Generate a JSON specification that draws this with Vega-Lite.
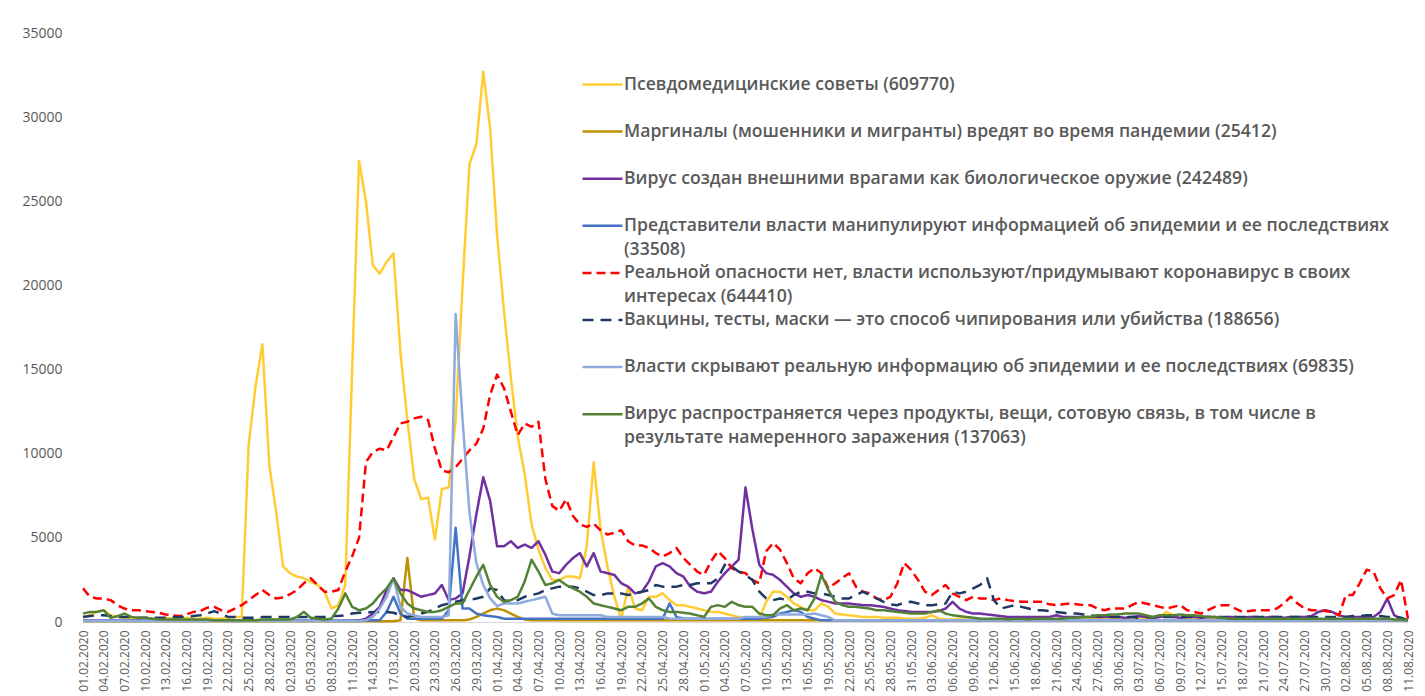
{
"$schema": "https://vega.github.io/schema/vega-lite/v6.json",
"width": 1325, "height": 589,
"autosize": {"type": "none"},
"padding": {"left": 83, "top": 33, "right": 17, "bottom": 74},
"background": "white",
"config": {"view": {"stroke": null}, "font": "Open Sans"},
"datasets": {
"series": [
{"k": "a", "name": "Псевдомедицинские советы (609770)"},
{"k": "b", "name": "Маргиналы (мошенники и мигранты) вредят во время пандемии (25412)"},
{"k": "c", "name": "Вирус создан внешними врагами как биологическое оружие (242489)"},
{"k": "d", "name": "Представители власти манипулируют информацией об эпидемии и ее последствиях\n(33508)"},
{"k": "e", "name": "Реальной опасности нет, власти используют/придумывают коронавирус в своих\nинтересах (644410)"},
{"k": "f", "name": "Вакцины, тесты, маски — это способ чипирования или убийства (188656)"},
{"k": "g", "name": "Власти скрывают реальную информацию об эпидемии и ее последствиях (69835)"},
{"k": "h", "name": "Вирус распространяется через продукты, вещи, сотовую связь, в том числе в\nрезультате намеренного заражения (137063)"}
],
"days": [
{"day":0,"a":300,"b":50,"c":80,"d":80,"e":2000,"f":300,"g":60,"h":500},
{"day":1,"a":400,"b":50,"c":80,"d":80,"e":1500,"f":350,"g":60,"h":600},
{"day":2,"a":600,"b":50,"c":80,"d":80,"e":1400,"f":400,"g":60,"h":600},
{"day":3,"a":700,"b":50,"c":80,"d":80,"e":1400,"f":400,"g":60,"h":700},
{"day":4,"a":400,"b":50,"c":80,"d":80,"e":1300,"f":350,"g":60,"h":250},
{"day":5,"a":300,"b":50,"c":80,"d":80,"e":1000,"f":300,"g":60,"h":350},
{"day":6,"a":250,"b":50,"c":80,"d":80,"e":800,"f":300,"g":60,"h":500},
{"day":7,"a":200,"b":50,"c":80,"d":80,"e":700,"f":300,"g":60,"h":300},
{"day":8,"a":200,"b":50,"c":80,"d":80,"e":700,"f":250,"g":60,"h":250},
{"day":9,"a":250,"b":50,"c":80,"d":80,"e":650,"f":250,"g":60,"h":250},
{"day":10,"a":200,"b":50,"c":80,"d":80,"e":600,"f":250,"g":60,"h":200},
{"day":11,"a":200,"b":50,"c":80,"d":80,"e":550,"f":250,"g":60,"h":150},
{"day":12,"a":250,"b":50,"c":80,"d":80,"e":450,"f":250,"g":60,"h":150},
{"day":13,"a":200,"b":50,"c":80,"d":80,"e":400,"f":300,"g":60,"h":150},
{"day":14,"a":200,"b":50,"c":80,"d":80,"e":350,"f":300,"g":60,"h":150},
{"day":15,"a":250,"b":50,"c":80,"d":80,"e":450,"f":300,"g":60,"h":150},
{"day":16,"a":200,"b":50,"c":80,"d":80,"e":600,"f":350,"g":60,"h":150},
{"day":17,"a":200,"b":50,"c":80,"d":80,"e":650,"f":400,"g":60,"h":150},
{"day":18,"a":250,"b":50,"c":80,"d":80,"e":850,"f":500,"g":60,"h":150},
{"day":19,"a":200,"b":50,"c":80,"d":80,"e":900,"f":650,"g":60,"h":100},
{"day":20,"a":200,"b":50,"c":80,"d":80,"e":700,"f":500,"g":60,"h":100},
{"day":21,"a":250,"b":50,"c":80,"d":80,"e":600,"f":300,"g":60,"h":100},
{"day":22,"a":300,"b":50,"c":80,"d":80,"e":800,"f":300,"g":60,"h":100},
{"day":23,"a":300,"b":50,"c":80,"d":80,"e":1000,"f":250,"g":60,"h":100},
{"day":24,"a":10500,"b":50,"c":80,"d":80,"e":1300,"f":250,"g":60,"h":100},
{"day":25,"a":14000,"b":50,"c":80,"d":80,"e":1600,"f":250,"g":60,"h":100},
{"day":26,"a":16500,"b":50,"c":80,"d":80,"e":1900,"f":300,"g":60,"h":150},
{"day":27,"a":9300,"b":50,"c":80,"d":80,"e":1600,"f":300,"g":60,"h":150},
{"day":28,"a":6500,"b":50,"c":80,"d":80,"e":1400,"f":300,"g":60,"h":150},
{"day":29,"a":3300,"b":50,"c":80,"d":80,"e":1450,"f":300,"g":60,"h":150},
{"day":30,"a":2900,"b":50,"c":80,"d":80,"e":1650,"f":300,"g":60,"h":150},
{"day":31,"a":2700,"b":50,"c":80,"d":80,"e":1900,"f":300,"g":60,"h":300},
{"day":32,"a":2600,"b":50,"c":80,"d":80,"e":2300,"f":300,"g":60,"h":600},
{"day":33,"a":2400,"b":50,"c":80,"d":80,"e":2600,"f":300,"g":60,"h":250},
{"day":34,"a":2200,"b":50,"c":80,"d":80,"e":2200,"f":300,"g":60,"h":200},
{"day":35,"a":1800,"b":50,"c":80,"d":80,"e":1800,"f":300,"g":60,"h":150},
{"day":36,"a":800,"b":50,"c":80,"d":80,"e":1800,"f":350,"g":60,"h":200},
{"day":37,"a":1000,"b":50,"c":80,"d":80,"e":1900,"f":350,"g":60,"h":800},
{"day":38,"a":2200,"b":50,"c":80,"d":80,"e":3000,"f":400,"g":60,"h":1700},
{"day":39,"a":15000,"b":50,"c":80,"d":80,"e":3900,"f":500,"g":60,"h":900},
{"day":40,"a":27400,"b":50,"c":100,"d":80,"e":5000,"f":550,"g":60,"h":700},
{"day":41,"a":25000,"b":50,"c":200,"d":100,"e":9500,"f":550,"g":100,"h":800},
{"day":42,"a":21200,"b":50,"c":500,"d":100,"e":10100,"f":600,"g":300,"h":1100},
{"day":43,"a":20700,"b":50,"c":900,"d":100,"e":10300,"f":600,"g":800,"h":1600},
{"day":44,"a":21400,"b":50,"c":1900,"d":600,"e":10200,"f":600,"g":1500,"h":2000},
{"day":45,"a":21900,"b":50,"c":2600,"d":1500,"e":11000,"f":550,"g":2600,"h":2600},
{"day":46,"a":16000,"b":100,"c":1900,"d":500,"e":11800,"f":400,"g":900,"h":1700},
{"day":47,"a":12000,"b":3800,"c":1900,"d":200,"e":11900,"f":300,"g":500,"h":1100},
{"day":48,"a":8500,"b":200,"c":1700,"d":200,"e":12100,"f":400,"g":400,"h":800},
{"day":49,"a":7300,"b":100,"c":1500,"d":200,"e":12200,"f":500,"g":300,"h":700},
{"day":50,"a":7400,"b":100,"c":1600,"d":200,"e":12000,"f":600,"g":300,"h":600},
{"day":51,"a":4900,"b":100,"c":1700,"d":200,"e":10300,"f":800,"g":300,"h":600},
{"day":52,"a":7900,"b":100,"c":2200,"d":200,"e":9000,"f":1000,"g":300,"h":700},
{"day":53,"a":8000,"b":100,"c":1300,"d":700,"e":8900,"f":1100,"g":400,"h":900},
{"day":54,"a":12000,"b":100,"c":1400,"d":5600,"e":9200,"f":1200,"g":18300,"h":1100},
{"day":55,"a":20000,"b":100,"c":1700,"d":800,"e":9700,"f":1300,"g":12000,"h":1100},
{"day":56,"a":27200,"b":150,"c":3900,"d":800,"e":10200,"f":1300,"g":6500,"h":1900},
{"day":57,"a":28400,"b":300,"c":6400,"d":500,"e":10600,"f":1400,"g":3500,"h":2700},
{"day":58,"a":32700,"b":500,"c":8600,"d":400,"e":11500,"f":1500,"g":2200,"h":3400},
{"day":59,"a":29300,"b":700,"c":7200,"d":350,"e":13500,"f":2000,"g":1400,"h":2200},
{"day":60,"a":23000,"b":800,"c":4500,"d":300,"e":14700,"f":1900,"g":950,"h":1500},
{"day":61,"a":18500,"b":700,"c":4500,"d":200,"e":13900,"f":1300,"g":1100,"h":1200},
{"day":62,"a":14500,"b":500,"c":4800,"d":200,"e":12500,"f":1200,"g":1100,"h":1300},
{"day":63,"a":11000,"b":300,"c":4400,"d":200,"e":11100,"f":1300,"g":1100,"h":1500},
{"day":64,"a":8800,"b":150,"c":4600,"d":200,"e":11800,"f":1500,"g":1200,"h":2400},
{"day":65,"a":5800,"b":100,"c":4400,"d":200,"e":11600,"f":1600,"g":1300,"h":3700},
{"day":66,"a":4300,"b":100,"c":4800,"d":200,"e":11900,"f":1700,"g":1400,"h":3000},
{"day":67,"a":3200,"b":100,"c":4000,"d":200,"e":8500,"f":1900,"g":1500,"h":2200},
{"day":68,"a":2500,"b":100,"c":3000,"d":200,"e":6900,"f":2000,"g":500,"h":2300},
{"day":69,"a":2500,"b":100,"c":2900,"d":200,"e":6600,"f":2100,"g":400,"h":2500},
{"day":70,"a":2700,"b":100,"c":3400,"d":200,"e":7300,"f":2100,"g":400,"h":2200},
{"day":71,"a":2700,"b":100,"c":3800,"d":200,"e":6300,"f":2100,"g":400,"h":2000},
{"day":72,"a":2600,"b":100,"c":4100,"d":200,"e":5800,"f":2000,"g":400,"h":1800},
{"day":73,"a":4500,"b":100,"c":3300,"d":200,"e":5650,"f":1800,"g":400,"h":1500},
{"day":74,"a":9500,"b":100,"c":4100,"d":200,"e":5850,"f":1600,"g":400,"h":1100},
{"day":75,"a":5500,"b":100,"c":3000,"d":200,"e":5450,"f":1600,"g":400,"h":1000},
{"day":76,"a":3300,"b":100,"c":2900,"d":200,"e":5200,"f":1700,"g":300,"h":900},
{"day":77,"a":1500,"b":100,"c":2800,"d":200,"e":5300,"f":1700,"g":300,"h":800},
{"day":78,"a":150,"b":100,"c":2300,"d":200,"e":5450,"f":1700,"g":300,"h":700},
{"day":79,"a":2100,"b":100,"c":2100,"d":200,"e":4800,"f":1600,"g":300,"h":900},
{"day":80,"a":800,"b":100,"c":1700,"d":200,"e":4550,"f":1700,"g":300,"h":900},
{"day":81,"a":700,"b":100,"c":1800,"d":200,"e":4550,"f":1800,"g":300,"h":1100},
{"day":82,"a":1500,"b":100,"c":2400,"d":200,"e":4400,"f":1900,"g":300,"h":1400},
{"day":83,"a":1500,"b":100,"c":3300,"d":200,"e":4100,"f":2200,"g":300,"h":900},
{"day":84,"a":1700,"b":100,"c":3500,"d":200,"e":3900,"f":2100,"g":300,"h":700},
{"day":85,"a":1300,"b":100,"c":3300,"d":1100,"e":4100,"f":2100,"g":200,"h":600},
{"day":86,"a":1000,"b":100,"c":2900,"d":300,"e":4400,"f":2100,"g":200,"h":600},
{"day":87,"a":1000,"b":100,"c":2700,"d":200,"e":3800,"f":2200,"g":200,"h":550},
{"day":88,"a":900,"b":100,"c":2100,"d":200,"e":3400,"f":2200,"g":200,"h":500},
{"day":89,"a":800,"b":100,"c":1800,"d":200,"e":3000,"f":2300,"g":200,"h":400},
{"day":90,"a":700,"b":100,"c":1700,"d":200,"e":2800,"f":2300,"g":200,"h":300},
{"day":91,"a":600,"b":100,"c":1800,"d":200,"e":3600,"f":2300,"g":200,"h":900},
{"day":92,"a":600,"b":100,"c":2400,"d":200,"e":4200,"f":2600,"g":200,"h":1000},
{"day":93,"a":500,"b":100,"c":2900,"d":200,"e":3800,"f":3400,"g":200,"h":900},
{"day":94,"a":400,"b":100,"c":3300,"d":200,"e":3200,"f":3300,"g":200,"h":1200},
{"day":95,"a":300,"b":100,"c":3700,"d":200,"e":3000,"f":3000,"g":200,"h":1000},
{"day":96,"a":200,"b":100,"c":8000,"d":200,"e":2900,"f":2800,"g":300,"h":900},
{"day":97,"a":150,"b":100,"c":5500,"d":200,"e":2500,"f":2500,"g":300,"h":900},
{"day":98,"a":200,"b":100,"c":3400,"d":200,"e":2300,"f":1800,"g":300,"h":500},
{"day":99,"a":1200,"b":100,"c":2900,"d":250,"e":4200,"f":1400,"g":300,"h":400},
{"day":100,"a":1800,"b":100,"c":2800,"d":300,"e":4700,"f":1300,"g":450,"h":400},
{"day":101,"a":1800,"b":100,"c":2500,"d":500,"e":4300,"f":1400,"g":450,"h":800},
{"day":102,"a":1500,"b":100,"c":2100,"d":600,"e":3500,"f":1300,"g":450,"h":1000},
{"day":103,"a":1100,"b":100,"c":1700,"d":700,"e":2600,"f":1600,"g":450,"h":700},
{"day":104,"a":900,"b":100,"c":1500,"d":600,"e":2300,"f":1800,"g":450,"h":800},
{"day":105,"a":700,"b":100,"c":1600,"d":300,"e":2900,"f":1800,"g":450,"h":700},
{"day":106,"a":700,"b":100,"c":1500,"d":200,"e":3200,"f":1700,"g":500,"h":1400},
{"day":107,"a":1100,"b":100,"c":1300,"d":100,"e":2900,"f":1700,"g":400,"h":2800},
{"day":108,"a":900,"b":100,"c":1200,"d":100,"e":2000,"f":1600,"g":300,"h":1900},
{"day":109,"a":500,"b":100,"c":1100,"d":100,"e":2300,"f":1500,"g":100,"h":1200},
{"day":110,"a":450,"b":100,"c":1100,"d":100,"e":2600,"f":1400,"g":100,"h":1000},
{"day":111,"a":400,"b":100,"c":1100,"d":100,"e":2900,"f":1400,"g":100,"h":900},
{"day":112,"a":350,"b":100,"c":1050,"d":100,"e":2100,"f":1600,"g":100,"h":900},
{"day":113,"a":300,"b":100,"c":1000,"d":100,"e":1800,"f":1800,"g":100,"h":850},
{"day":114,"a":300,"b":100,"c":1000,"d":100,"e":1700,"f":1600,"g":100,"h":800},
{"day":115,"a":300,"b":100,"c":950,"d":100,"e":1400,"f":1400,"g":100,"h":700},
{"day":116,"a":250,"b":100,"c":900,"d":100,"e":1300,"f":1200,"g":100,"h":700},
{"day":117,"a":250,"b":100,"c":800,"d":100,"e":1500,"f":1050,"g":100,"h":650},
{"day":118,"a":250,"b":100,"c":700,"d":100,"e":2300,"f":1000,"g":100,"h":600},
{"day":119,"a":200,"b":100,"c":650,"d":100,"e":3500,"f":1150,"g":100,"h":550},
{"day":120,"a":200,"b":100,"c":600,"d":100,"e":3100,"f":1200,"g":100,"h":500},
{"day":121,"a":200,"b":100,"c":600,"d":100,"e":2500,"f":1100,"g":100,"h":500},
{"day":122,"a":250,"b":100,"c":600,"d":100,"e":1800,"f":1000,"g":100,"h":500},
{"day":123,"a":400,"b":100,"c":600,"d":100,"e":1600,"f":1000,"g":100,"h":600},
{"day":124,"a":200,"b":100,"c":650,"d":100,"e":1900,"f":1050,"g":100,"h":700},
{"day":125,"a":150,"b":100,"c":800,"d":100,"e":2200,"f":1100,"g":100,"h":500},
{"day":126,"a":150,"b":100,"c":1200,"d":100,"e":1700,"f":1800,"g":100,"h":400},
{"day":127,"a":200,"b":100,"c":800,"d":100,"e":1500,"f":1700,"g":100,"h":350},
{"day":128,"a":150,"b":100,"c":600,"d":100,"e":1300,"f":1800,"g":100,"h":300},
{"day":129,"a":150,"b":100,"c":500,"d":100,"e":1500,"f":2000,"g":100,"h":250},
{"day":130,"a":100,"b":100,"c":500,"d":100,"e":1400,"f":2200,"g":100,"h":200},
{"day":131,"a":150,"b":100,"c":450,"d":100,"e":1400,"f":2600,"g":100,"h":200},
{"day":132,"a":150,"b":100,"c":400,"d":100,"e":1300,"f":1300,"g":100,"h":200},
{"day":133,"a":200,"b":100,"c":350,"d":100,"e":1400,"f":800,"g":100,"h":200},
{"day":134,"a":150,"b":100,"c":300,"d":100,"e":1300,"f":900,"g":100,"h":150},
{"day":135,"a":150,"b":100,"c":300,"d":100,"e":1250,"f":1000,"g":100,"h":200},
{"day":136,"a":100,"b":100,"c":300,"d":100,"e":1200,"f":900,"g":100,"h":200},
{"day":137,"a":150,"b":100,"c":300,"d":100,"e":1200,"f":800,"g":100,"h":150},
{"day":138,"a":150,"b":100,"c":300,"d":100,"e":1200,"f":700,"g":100,"h":200},
{"day":139,"a":200,"b":100,"c":300,"d":100,"e":1200,"f":700,"g":100,"h":200},
{"day":140,"a":150,"b":100,"c":300,"d":100,"e":1050,"f":650,"g":100,"h":200},
{"day":141,"a":150,"b":100,"c":400,"d":100,"e":1000,"f":600,"g":100,"h":200},
{"day":142,"a":100,"b":100,"c":300,"d":100,"e":1050,"f":550,"g":100,"h":200},
{"day":143,"a":150,"b":100,"c":300,"d":100,"e":1100,"f":500,"g":100,"h":250},
{"day":144,"a":200,"b":100,"c":300,"d":100,"e":1050,"f":500,"g":100,"h":250},
{"day":145,"a":150,"b":100,"c":300,"d":100,"e":1000,"f":450,"g":100,"h":300},
{"day":146,"a":150,"b":100,"c":300,"d":100,"e":1000,"f":400,"g":100,"h":300},
{"day":147,"a":200,"b":100,"c":300,"d":100,"e":800,"f":350,"g":100,"h":400},
{"day":148,"a":150,"b":100,"c":300,"d":100,"e":700,"f":300,"g":100,"h":400},
{"day":149,"a":150,"b":100,"c":300,"d":100,"e":800,"f":300,"g":100,"h":450},
{"day":150,"a":200,"b":100,"c":300,"d":100,"e":800,"f":300,"g":100,"h":450},
{"day":151,"a":150,"b":100,"c":250,"d":100,"e":800,"f":300,"g":100,"h":500},
{"day":152,"a":150,"b":100,"c":300,"d":100,"e":1000,"f":300,"g":100,"h":500},
{"day":153,"a":200,"b":100,"c":350,"d":100,"e":1200,"f":250,"g":100,"h":500},
{"day":154,"a":250,"b":100,"c":300,"d":100,"e":1100,"f":300,"g":100,"h":400},
{"day":155,"a":200,"b":100,"c":250,"d":100,"e":1000,"f":300,"g":100,"h":300},
{"day":156,"a":300,"b":100,"c":300,"d":100,"e":900,"f":300,"g":100,"h":400},
{"day":157,"a":600,"b":100,"c":350,"d":100,"e":800,"f":300,"g":100,"h":400},
{"day":158,"a":400,"b":100,"c":300,"d":100,"e":900,"f":300,"g":100,"h":400},
{"day":159,"a":200,"b":100,"c":250,"d":100,"e":1000,"f":300,"g":100,"h":450},
{"day":160,"a":150,"b":100,"c":300,"d":100,"e":700,"f":300,"g":100,"h":400},
{"day":161,"a":150,"b":100,"c":300,"d":100,"e":600,"f":300,"g":100,"h":400},
{"day":162,"a":200,"b":100,"c":250,"d":100,"e":500,"f":300,"g":100,"h":350},
{"day":163,"a":300,"b":100,"c":300,"d":100,"e":700,"f":300,"g":100,"h":300},
{"day":164,"a":200,"b":100,"c":300,"d":100,"e":900,"f":300,"g":100,"h":300},
{"day":165,"a":150,"b":100,"c":250,"d":100,"e":1000,"f":300,"g":100,"h":250},
{"day":166,"a":150,"b":100,"c":300,"d":100,"e":1000,"f":300,"g":100,"h":200},
{"day":167,"a":100,"b":100,"c":300,"d":100,"e":800,"f":300,"g":100,"h":200},
{"day":168,"a":150,"b":100,"c":250,"d":100,"e":600,"f":300,"g":100,"h":200},
{"day":169,"a":150,"b":100,"c":300,"d":100,"e":650,"f":300,"g":100,"h":200},
{"day":170,"a":100,"b":100,"c":300,"d":100,"e":700,"f":300,"g":100,"h":200},
{"day":171,"a":150,"b":100,"c":250,"d":100,"e":700,"f":300,"g":100,"h":200},
{"day":172,"a":150,"b":100,"c":300,"d":100,"e":700,"f":300,"g":100,"h":200},
{"day":173,"a":100,"b":100,"c":300,"d":100,"e":800,"f":300,"g":100,"h":200},
{"day":174,"a":150,"b":100,"c":250,"d":100,"e":1100,"f":300,"g":100,"h":200},
{"day":175,"a":150,"b":100,"c":300,"d":100,"e":1500,"f":300,"g":100,"h":200},
{"day":176,"a":100,"b":100,"c":300,"d":100,"e":1100,"f":300,"g":100,"h":200},
{"day":177,"a":150,"b":100,"c":300,"d":100,"e":800,"f":300,"g":100,"h":200},
{"day":178,"a":150,"b":100,"c":350,"d":100,"e":700,"f":300,"g":100,"h":200},
{"day":179,"a":100,"b":100,"c":600,"d":100,"e":700,"f":300,"g":100,"h":200},
{"day":180,"a":150,"b":100,"c":700,"d":100,"e":650,"f":300,"g":100,"h":200},
{"day":181,"a":100,"b":100,"c":600,"d":100,"e":600,"f":300,"g":100,"h":200},
{"day":182,"a":100,"b":100,"c":400,"d":100,"e":400,"f":300,"g":100,"h":200},
{"day":183,"a":150,"b":100,"c":300,"d":100,"e":1600,"f":300,"g":100,"h":200},
{"day":184,"a":100,"b":100,"c":300,"d":100,"e":1600,"f":350,"g":100,"h":200},
{"day":185,"a":100,"b":100,"c":300,"d":100,"e":2300,"f":350,"g":100,"h":200},
{"day":186,"a":150,"b":100,"c":300,"d":100,"e":3100,"f":400,"g":100,"h":200},
{"day":187,"a":100,"b":100,"c":300,"d":100,"e":3000,"f":400,"g":100,"h":200},
{"day":188,"a":100,"b":100,"c":600,"d":100,"e":2000,"f":350,"g":100,"h":200},
{"day":189,"a":150,"b":100,"c":1400,"d":100,"e":1400,"f":300,"g":100,"h":200},
{"day":190,"a":100,"b":100,"c":400,"d":100,"e":1600,"f":300,"g":100,"h":150},
{"day":191,"a":100,"b":100,"c":200,"d":100,"e":2500,"f":250,"g":100,"h":150},
{"day":192,"a":50,"b":100,"c":100,"d":80,"e":200,"f":100,"g":80,"h":100}
]
},
"data": {"name": "days"},
"transform": [
{"fold": ["a", "b", "c", "d", "e", "f", "g", "h"], "as": ["k", "v"]},
{"lookup": "k", "from": {"data": {"name": "series"}, "key": "k", "fields": ["name"]}}
],
"mark": {"type": "line", "strokeJoin": "round"},
"encoding": {
"x": {"field": "day", "type": "quantitative",
 "scale": {"domain": [0, 192], "nice": false, "zero": false},
 "axis": {"title": null, "grid": false, "ticks": false, "domainColor": "#D9D9D9",
  "values": [0,3,6,9,12,15,18,21,24,27,30,33,36,39,42,45,48,51,54,57,60,63,66,69,72,75,78,81,84,87,90,93,96,99,102,105,108,111,114,117,120,123,126,129,132,135,138,141,144,147,150,153,156,159,162,165,168,171,174,177,180,183,186,189,192],
  "labelExpr": "timeFormat(datetime(2020, 1, 1 + datum.value), '%d.%m.%Y')",
  "labelAngle": -90, "labelAlign": "right", "labelBaseline": "middle",
  "labelFont": "Open Sans", "labelFontSize": 12, "labelColor": "#595959", "labelPadding": 8,
  "labelOverlap": false, "labelFlush": false, "labelBound": false}},
"y": {"field": "v", "type": "quantitative",
 "scale": {"domain": [0, 35000], "nice": false},
 "axis": {"title": null, "grid": false, "domain": false, "ticks": false, "format": "d",
  "values": [0, 5000, 10000, 15000, 20000, 25000, 30000, 35000],
  "labelFont": "Open Sans", "labelFontSize": 14, "labelColor": "#595959", "labelPadding": 21}},
"color": {"field": "name", "type": "nominal",
 "scale": {"domain": [
  "Псевдомедицинские советы (609770)",
  "Маргиналы (мошенники и мигранты) вредят во время пандемии (25412)",
  "Вирус создан внешними врагами как биологическое оружие (242489)",
  "Представители власти манипулируют информацией об эпидемии и ее последствиях\n(33508)",
  "Реальной опасности нет, власти используют/придумывают коронавирус в своих\nинтересах (644410)",
  "Вакцины, тесты, маски — это способ чипирования или убийства (188656)",
  "Власти скрывают реальную информацию об эпидемии и ее последствиях (69835)",
  "Вирус распространяется через продукты, вещи, сотовую связь, в том числе в\nрезультате намеренного заражения (137063)"],
  "range": ["#FFCC33", "#BF9000", "#7030A0", "#4472C4", "#FF0000", "#203864", "#8FAADC", "#548235"]},
 "legend": {"title": null, "orient": "none", "legendX": 508, "legendY": 40, "padding": 0,
  "symbolType": "M-2,0H2", "symbolSize": 400, "gridAlign": "all",
  "labelFont": "Open Sans", "labelFontSize": 17.6, "labelFontWeight": 600, "labelColor": "#595959",
  "labelLimit": 900, "labelOffset": 10, "rowPadding": 2.1,
  "labelExpr": "split(datum.label, '\\n')",
  "encode": {"labels": {"update": {"lineHeight": {"value": 24}}}}}},
"strokeDash": {"field": "name", "type": "nominal",
 "scale": {"domain": [
  "Псевдомедицинские советы (609770)",
  "Маргиналы (мошенники и мигранты) вредят во время пандемии (25412)",
  "Вирус создан внешними врагами как биологическое оружие (242489)",
  "Представители власти манипулируют информацией об эпидемии и ее последствиях\n(33508)",
  "Реальной опасности нет, власти используют/придумывают коронавирус в своих\nинтересах (644410)",
  "Вакцины, тесты, маски — это способ чипирования или убийства (188656)",
  "Власти скрывают реальную информацию об эпидемии и ее последствиях (69835)",
  "Вирус распространяется через продукты, вещи, сотовую связь, в том числе в\nрезультате намеренного заражения (137063)"],
  "range": [[1, 0], [1, 0], [1, 0], [1, 0], [9, 5], [11, 7], [1, 0], [1, 0]]}},
"strokeWidth": {"field": "name", "type": "nominal",
 "scale": {"domain": [
  "Псевдомедицинские советы (609770)",
  "Маргиналы (мошенники и мигранты) вредят во время пандемии (25412)",
  "Вирус создан внешними врагами как биологическое оружие (242489)",
  "Представители власти манипулируют информацией об эпидемии и ее последствиях\n(33508)",
  "Реальной опасности нет, власти используют/придумывают коронавирус в своих\nинтересах (644410)",
  "Вакцины, тесты, маски — это способ чипирования или убийства (188656)",
  "Власти скрывают реальную информацию об эпидемии и ее последствиях (69835)",
  "Вирус распространяется через продукты, вещи, сотовую связь, в том числе в\nрезультате намеренного заражения (137063)"],
  "range": [2.5, 2.5, 2.5, 2.5, 3.5, 4, 2.5, 2.5]}}
}
}
